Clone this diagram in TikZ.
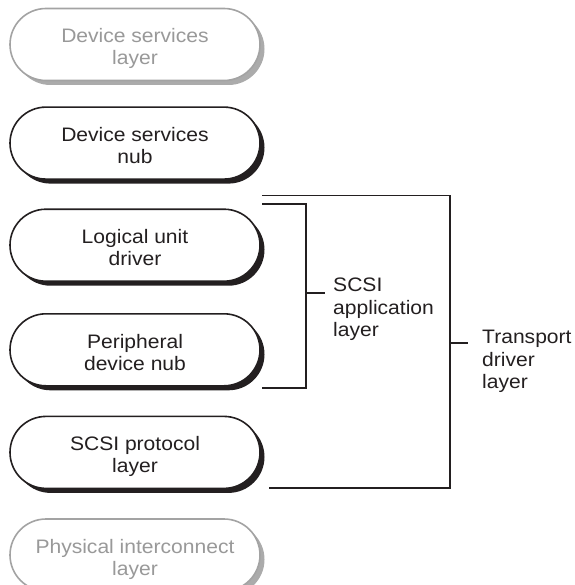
\documentclass[tikz,border=0pt]{standalone}
\usepackage{fontspec}
\setmainfont{Liberation Sans}[FakeStretch=1.08]
\usetikzlibrary{positioning, shadows}
\definecolor{inkMain}{HTML}{231F20}
\definecolor{inkDim}{HTML}{999999}
\definecolor{borderDim}{HTML}{A3A3A3}
\definecolor{shadowDim}{HTML}{ABABAB}
\tikzset{
  pillbase/.style={fill=white, rounded corners=36pt,
    minimum width=250pt, minimum height=72pt, inner sep=0pt,
    font=\fontsize{19.5}{22}\selectfont, text height=45pt, text depth=4pt,
    line width=1.6pt, align=center},
  layerbox/.style={pillbase, draw=inkMain, text=inkMain,
    drop shadow={shadow xshift=4.5pt, shadow yshift=-4.5pt, fill=inkMain, opacity=1}},
  dimbox/.style={pillbase, draw=borderDim, text=inkDim,
    drop shadow={shadow xshift=4.5pt, shadow yshift=-4.5pt, fill=shadowDim, opacity=1}},
  bracketline/.style={draw=inkMain, line width=1.7pt},
  sidelabel/.style={font=\fontsize{19.5}{22.5}\selectfont, text=inkMain,
    align=left, inner sep=0pt, anchor=north west},
}

\begin{document}
\begin{tikzpicture}[x=1pt, y=-1pt]
  \useasboundingbox (0,0) rectangle (574,585);

  % === Column of layers ===
  \node[dimbox] (devLayer) at (135,44.5) {Device services\\layer};
  \node[layerbox, below=25pt of devLayer] (devNub) {Device services\\nub};
  \node[layerbox, below=28.5pt of devNub] (luDriver) {Logical unit\\driver};
  \node[layerbox, below=31pt of luDriver] (periphNub) {Peripheral\\device nub};
  \node[layerbox, below=29pt of periphNub] (protoLayer) {SCSI protocol\\layer};
  \node[dimbox, below=29pt of protoLayer] (physLayer) {Physical interconnect\\layer};

  % === SCSI application bracket ===
  \coordinate (appTop) at (262,204);
  \coordinate (appMid) at (306,293);
  \coordinate (appBot) at (262,388);
  \coordinate (appTick) at (325,293);
  \draw[bracketline] (appTop) -| (appMid) |- (appBot);
  \draw[bracketline] (appMid) -- (appTick);
  \node[sidelabel] (appLabel) at (333,278) {SCSI\\application\\layer};

  % === Transport driver bracket ===
  \coordinate (tdTop) at (262,195.5);
  \coordinate (tdMid) at (450,343);
  \coordinate (tdBot) at (269,488);
  \coordinate (tdTick) at (468,343);
  \draw[bracketline] (tdTop) -| (tdMid) |- (tdBot);
  \draw[bracketline] (tdMid) -- (tdTick);
  \node[sidelabel] (tdLabel) at (482,330) {Transport\\driver\\layer};

\end{tikzpicture}
\end{document}
